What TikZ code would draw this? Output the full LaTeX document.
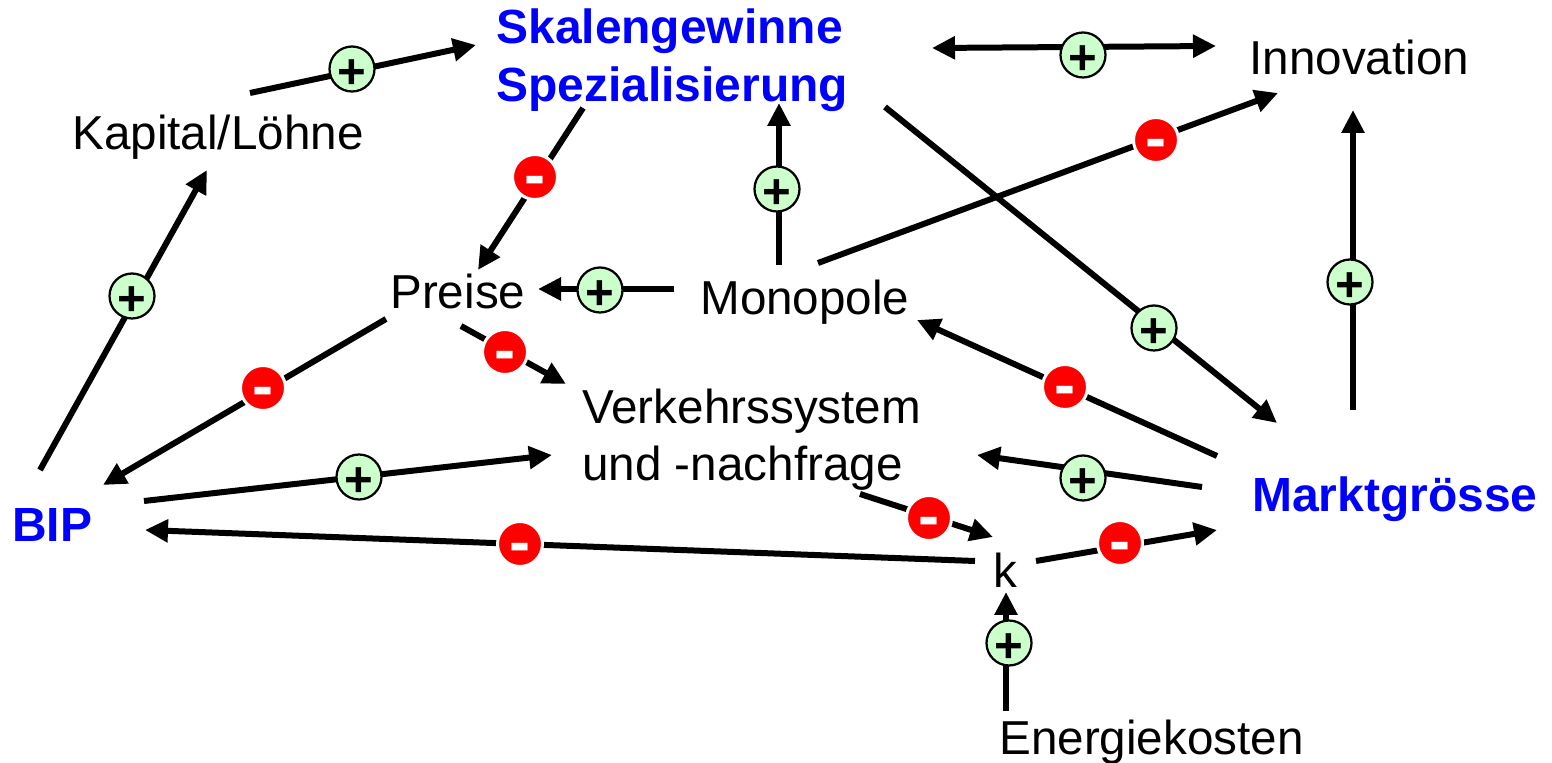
\documentclass[tikz,border=0pt]{standalone}
\usepackage{fontspec}
\setmainfont{Liberation Sans}
\usetikzlibrary{arrows.meta}
\newcommand{\signtxt}[1]{\makebox[0pt]{\raisebox{-0.4cm}[0pt][0pt]{#1}}}
\tikzset{
 txt/.style={anchor=base west,inner sep=0pt,font=\fontsize{27.1}{33}\selectfont},
 key/.style={txt,font=\fontsize{27.3}{33}\selectfont\bfseries,text=blue},
 conn/.style={line width=0.12cm,-{Triangle[length=0.46cm,width=0.44cm]}},
 both/.style={line width=0.12cm,{Triangle[length=0.46cm,width=0.44cm]}-{Triangle[length=0.46cm,width=0.44cm]}},
 plusnode/.style={circle,draw=black,line width=0.045cm,fill=green!20,inner sep=0pt,minimum size=0.9cm,font=\fontsize{28}{28}\selectfont\bfseries},
 minusnode/.style={circle,draw=white,line width=0.06cm,fill=red,text=white,inner sep=0pt,minimum size=0.9cm,font=\fontsize{36}{36}\selectfont\bfseries},
}
\begin{document}
\begin{tikzpicture}[x=0.02cm,y=-0.02cm]
 \path[use as bounding box] (0,0) rectangle (1552,763);
 % labels
 \node[key] (skalen) at (496,44) {Skalengewinne};
 \node[key] (spez) at (496,102) {Spezialisierung};
 \node[txt] (innovation) at (1249,75) {Innovation};
 \node[txt] (kapital) at (72,150) {Kapital/Löhne};
 \node[txt] (preise) at (390,309) {Preise};
 \node[txt] (monopole) at (700,315) {Monopole};
 \node[txt] (verkehr) at (582,424) {Verkehrssystem};
 \node[txt] (nachfrage) at (582,480) {und -nachfrage};
 \node[key] (bip) at (12,541) {BIP};
 \node[key] (markt) at (1252,511) {Marktgrösse};
 \node[txt] (k) at (993,587) {k};
 \node[txt] (energie) at (999,754) {Energiekosten};
 % connector ends
 \coordinate (kapitalA) at (250,93);
 \coordinate (skalenA) at (476,45);
 \coordinate (spezA) at (583,108);
 \coordinate (preiseA) at (478,270);
 \coordinate (skalenB) at (932,48);
 \coordinate (innovationB) at (1216,46);
 \coordinate (monopoleA) at (818,263);
 \coordinate (innovationA) at (1278,93);
 \coordinate (monopoleB) at (779,265);
 \coordinate (spezB) at (779,103);
 \coordinate (spezC) at (885,107);
 \coordinate (marktA) at (1277,423);
 \coordinate (marktB) at (1353,410);
 \coordinate (innovationC) at (1353,110);
 \coordinate (monopoleC) at (674,289);
 \coordinate (preiseB) at (538,289);
 \coordinate (preiseC) at (386,319);
 \coordinate (bipA) at (103,485);
 \coordinate (preiseD) at (461,326);
 \coordinate (verkehrA) at (566,384);
 \coordinate (marktC) at (1217,456);
 \coordinate (monopoleD) at (917,320);
 \coordinate (marktD) at (1202,487);
 \coordinate (verkehrB) at (977,455);
 \coordinate (bipB) at (144,501);
 \coordinate (verkehrC) at (552,455);
 \coordinate (nachfrageA) at (860,494);
 \coordinate (kA) at (993,537);
 \coordinate (kB) at (975,561);
 \coordinate (bipC) at (145,530);
 \coordinate (kC) at (1036,561);
 \coordinate (marktE) at (1217,530);
 \coordinate (energieA) at (1006,711);
 \coordinate (kD) at (1006,592);
 \coordinate (bipD) at (40,470);
 \coordinate (kapitalB) at (207,170);
 % connectors
 \draw[conn] (kapitalA)--(skalenA);
 \draw[conn] (spezA)--(preiseA);
 \draw[both] (skalenB)--(innovationB);
 \draw[conn] (monopoleA)--(innovationA);
 \draw[conn] (monopoleB)--(spezB);
 \draw[conn] (spezC)--(marktA);
 \draw[conn] (marktB)--(innovationC);
 \draw[conn] (monopoleC)--(preiseB);
 \draw[conn] (preiseC)--(bipA);
 \draw[conn] (preiseD)--(verkehrA);
 \draw[conn] (marktC)--(monopoleD);
 \draw[conn] (marktD)--(verkehrB);
 \draw[conn] (bipB)--(verkehrC);
 \draw[conn] (nachfrageA)--(kA);
 \draw[conn] (kB)--(bipC);
 \draw[conn] (kC)--(marktE);
 \draw[conn] (energieA)--(kD);
 \draw[conn] (bipD)--(kapitalB);
 % signs
 \node[plusnode] (sign1) at (352,69) {\signtxt{+}};
 \node[minusnode] (sign2) at (535,177) {\signtxt{-}};
 \node[plusnode] (sign3) at (1083,55) {\signtxt{+}};
 \node[minusnode] (sign4) at (1156,140) {\signtxt{-}};
 \node[plusnode] (sign5) at (777,189) {\signtxt{+}};
 \node[plusnode] (sign6) at (1154,328) {\signtxt{+}};
 \node[plusnode] (sign7) at (1350,282) {\signtxt{+}};
 \node[plusnode] (sign8) at (600,290) {\signtxt{+}};
 \node[minusnode] (sign9) at (263,388) {\signtxt{-}};
 \node[minusnode] (sign10) at (505,352) {\signtxt{-}};
 \node[minusnode] (sign11) at (1065,387) {\signtxt{-}};
 \node[plusnode] (sign12) at (1083,478) {\signtxt{+}};
 \node[plusnode] (sign13) at (359,477) {\signtxt{+}};
 \node[minusnode] (sign14) at (929,518) {\signtxt{-}};
 \node[minusnode] (sign15) at (520,544) {\signtxt{-}};
 \node[minusnode] (sign16) at (1120,543) {\signtxt{-}};
 \node[plusnode] (sign17) at (1009,643) {\signtxt{+}};
 \node[plusnode] (sign18) at (132,296) {\signtxt{+}};
\end{tikzpicture}
\end{document}
